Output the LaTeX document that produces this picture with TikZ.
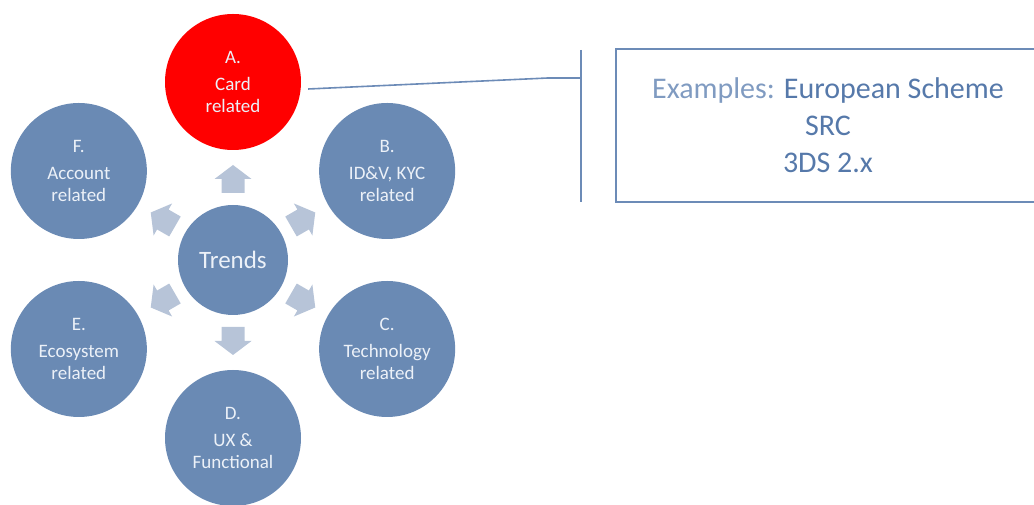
\documentclass[tikz,border=0pt]{standalone}
\usepackage{fontspec}
\setmainfont{Carlito}
\definecolor{trendblue}{RGB}{106,138,180}
\definecolor{trendtext}{RGB}{236,241,248}
\definecolor{cardred}{RGB}{255,0,0}
\definecolor{arrowblue}{RGB}{183,196,216}
\definecolor{lineblue}{RGB}{108,139,183}
\definecolor{exlight}{RGB}{128,155,193}
\definecolor{exdark}{RGB}{86,121,170}
\begin{document}
\begin{tikzpicture}[x=1pt,y=1pt,
  trend/.style={circle,fill=trendblue,text=trendtext,minimum size=136pt,inner sep=0pt,
    align=center,font=\fontsize{19}{22}\selectfont},
  hub/.style={trend,minimum size=110pt,font=\fontsize{25}{30}\selectfont},
  blockarrow/.style={fill=arrowblue},
  link/.style={draw=lineblue,line width=1.6pt}]
\useasboundingbox (0,0) rectangle (1034,505);
% centre and the six trends
\node[hub] (trends) at (233,245) {Trends};
\node[trend,fill=cardred] (A) at ([shift={(90:178)}]trends.center) {A.\\[5pt]Card\\related};
\node[trend] (B) at ([shift={(30:178)}]trends.center) {B.\\[5pt]ID\&V, KYC\\related};
\node[trend] (C) at ([shift={(-30:178)}]trends.center) {C.\\[5pt]Technology\\related};
\node[trend] (D) at ([shift={(-90:178)}]trends.center) {D.\\[5pt]UX \&\\Functional};
\node[trend] (E) at ([shift={(-150:178)}]trends.center) {E.\\[5pt]Ecosystem\\related};
\node[trend] (F) at ([shift={(150:178)}]trends.center) {F.\\[5pt]Account\\related};
% arrows out of the centre
\foreach \ang in {90,30,-30,-90,-150,150}
  \fill[blockarrow,shift={(trends.center)},rotate=\ang,xshift=81pt]
    (-14,-11.5) -- (0,-11.5) -- (0,-18.5) -- (14,0) -- (0,18.5) -- (0,11.5) -- (-14,11.5) -- cycle;
% callout
\node[draw=lineblue,line width=2pt,minimum width=424pt,minimum height=153pt,inner sep=0pt,
  align=center,text=exdark,font=\fontsize{30}{37}\selectfont] (examples) at (828,379.5)
  {{\color{exlight}Examples:} European Scheme\\SRC\\3DS 2.x};
\coordinate (bend) at (548,427);
\coordinate (brkt) at (581,427);
\coordinate (brkttop) at (581,455);
\coordinate (brktbot) at (581,303);
\draw[link] ([shift={(7pt,-7pt)}]A.east) -- (bend) -- (brkt);
\draw[link] (brkttop) -- (brktbot);
\end{tikzpicture}
\end{document}
